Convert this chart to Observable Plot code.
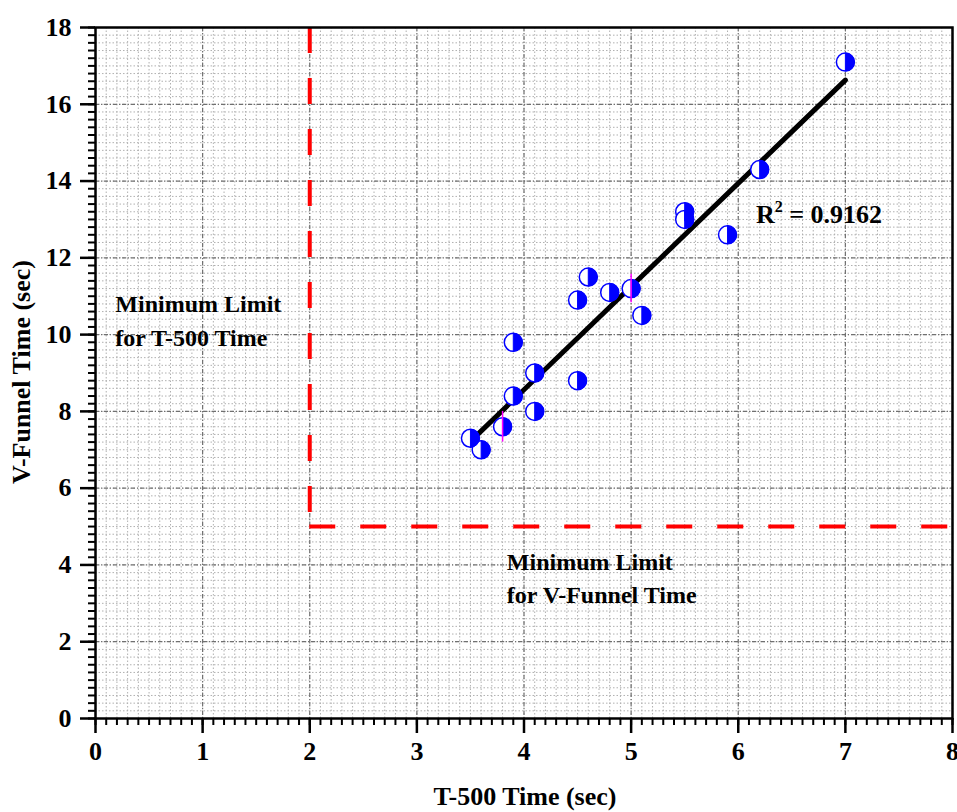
<!DOCTYPE html>
<html>
<head>
<meta charset="utf-8">
<script src="https://cdn.jsdelivr.net/npm/d3@7"></script>
<script src="https://cdn.jsdelivr.net/npm/@observablehq/plot@0.6"></script>
<style>
  html, body { margin: 0; padding: 0; background: #fff; }
  svg { display: block; }
</style>
</head>
<body>
<div id="chart"></div>
<script>
// T-500 time (sec)
const t500 = [3.5, 3.6, 3.8, 3.9, 3.9, 4.1, 4.1, 4.5, 4.5, 4.6, 4.8, 5.0, 5.1, 5.5, 5.5, 5.9, 6.2, 7.0];
// V-Funnel time (sec)
const vfunnel = [7.3, 7.0, 7.6, 8.4, 9.8, 9.0, 8.0, 8.8, 10.9, 11.5, 11.1, 11.2, 10.5, 13.2, 13.0, 12.6, 14.3, 17.1];
// error bar half-length (only visible on two points)
const vErr = [0, 0, 0.4, 0, 0, 0, 0, 0, 0, 0, 0, 0.37, 0, 0, 0, 0, 0, 0];

// fitted line endpoints
const fitX = [3.5, 7.0];
const fitY = [7.22, 16.63];
const r2Value = "0.9162";

// limits
const t500Limit = 2;
const vfunnelLimit = 5;
const xMax = 8;
const yMax = 18;

const xMajor = d3.range(0, 8.001, 1);
const xMinor = d3.range(0, 80.001, 1).map(d => d / 10);
const yMajor = d3.range(0, 18.001, 2);
const yMinor = d3.range(0, 90.001, 1).map(d => d / 5);

const points = t500.map((x, i) => ({x, y: vfunnel[i], e: vErr[i]}));
const fit = fitX.map((x, i) => ({x, y: fitY[i]}));

const halfRight = {
  draw(context, size) {
    const r = Math.sqrt(size / Math.PI);
    context.moveTo(0, -r);
    context.arc(0, 0, r, -Math.PI / 2, Math.PI / 2);
    context.closePath();
  }
};

const font = "'Liberation Serif', 'Times New Roman', serif";

const chart = Plot.plot({
  width: 957,
  height: 812,
  marginLeft: 95,
  marginRight: 5,
  marginTop: 27,
  marginBottom: 94,
  style: {fontFamily: font, fontWeight: "bold", fontSize: "24px", background: "#fff", overflow: "visible"},
  x: {domain: [0, xMax]},
  y: {domain: [0, yMax]},
  marks: [
    // minor grid
    Plot.gridX(xMinor, {stroke: "#b0b0b0", strokeOpacity: 1, strokeWidth: 1, strokeDasharray: "1.5,2"}),
    Plot.gridY(yMinor, {stroke: "#b0b0b0", strokeOpacity: 1, strokeWidth: 1, strokeDasharray: "1.5,2"}),
    // major grid
    Plot.gridX(xMajor, {stroke: "#707070", strokeOpacity: 1, strokeWidth: 1.2, strokeDasharray: "4,2,1,2"}),
    Plot.gridY(yMajor, {stroke: "#707070", strokeOpacity: 1, strokeWidth: 1.2, strokeDasharray: "4,2,1,2"}),
    // limits
    Plot.ruleX([t500Limit], {y1: yMax, y2: vfunnelLimit, stroke: "#ff0000", strokeWidth: 4, strokeDasharray: "26,25"}),
    Plot.ruleY([vfunnelLimit], {x1: t500Limit, x2: xMax, stroke: "#ff0000", strokeWidth: 4, strokeDasharray: "26,25"}),
    // fit line
    Plot.line(fit, {x: "x", y: "y", stroke: "#000", strokeWidth: 5}),
    // points
    Plot.dot(points, {x: "x", y: "y", r: 9, fill: "#fff", stroke: "#0000ff", strokeWidth: 1.5}),
    Plot.dot(points, {x: "x", y: "y", r: 9, symbol: halfRight, fill: "#0000ff", stroke: "#0000ff", strokeWidth: 1}),
    // error bars
    Plot.ruleX(points.filter(d => d.e > 0), {x: "x", y1: d => d.y - d.e, y2: d => d.y + d.e, stroke: "#ff00ff", strokeWidth: 1.5}),
    // annotations
    Plot.text(["Minimum Limit\nfor T-500 Time"], {x: 0.185, y: 11.19, text: d => d, textAnchor: "start", lineAnchor: "top", lineHeight: 1.38, fontSize: 24, fontWeight: "bold", fill: "#000"}),
    Plot.text(["Minimum Limit\nfor V-Funnel Time"], {x: 3.84, y: 4.49, text: d => d, textAnchor: "start", lineAnchor: "top", lineHeight: 1.38, fontSize: 24, fontWeight: "bold", fill: "#000"}),
    // axes
    Plot.axisX(xMinor, {tickSize: 7, strokeWidth: 2, tickFormat: null, label: null, text: null}),
    Plot.axisX(xMajor, {tickSize: 15, strokeWidth: 2.5, tickPadding: 8, tickFormat: d => d, fontSize: 26, fontWeight: "bold", label: null}),
    Plot.axisY(yMinor, {tickSize: 7, strokeWidth: 2, tickFormat: null, label: null, text: null}),
    Plot.axisY(yMajor, {tickSize: 15, strokeWidth: 2.5, tickPadding: 9, tickFormat: d => d, fontSize: 26, fontWeight: "bold", label: null}),
    Plot.frame({stroke: "#000", strokeWidth: 2.5})
  ]
});

const svg = d3.select(chart);
svg.selectAll('g[aria-label="x-axis tick label"], g[aria-label="y-axis tick label"]')
  .attr("font-size", 26).attr("font-weight", "bold")
  .selectAll("text").attr("font-size", 26);

// R² label with superscript, and axis titles
const xs = chart.scale("x"), ys = chart.scale("y");
const r2 = svg.append("text")
  .attr("x", xs.apply(6.17)).attr("y", ys.apply(12.9))
  .attr("text-anchor", "start")
  .attr("font-size", 26).attr("font-weight", "bold").attr("font-family", font);
r2.append("tspan").text("R");
r2.append("tspan").text("2").attr("font-size", 16).attr("dy", -11);
r2.append("tspan").text(" = " + r2Value).attr("dy", 11);

svg.append("text")
  .attr("x", 525).attr("y", 805)
  .attr("text-anchor", "middle")
  .attr("font-size", 26).attr("font-weight", "bold").attr("font-family", font)
  .text("T-500 Time (sec)");
svg.append("text")
  .attr("transform", "translate(30,372) rotate(-90)")
  .attr("text-anchor", "middle")
  .attr("font-size", 26).attr("font-weight", "bold").attr("font-family", font)
  .text("V-Funnel Time (sec)");

document.getElementById("chart").appendChild(chart);
</script>
</body>
</html>
